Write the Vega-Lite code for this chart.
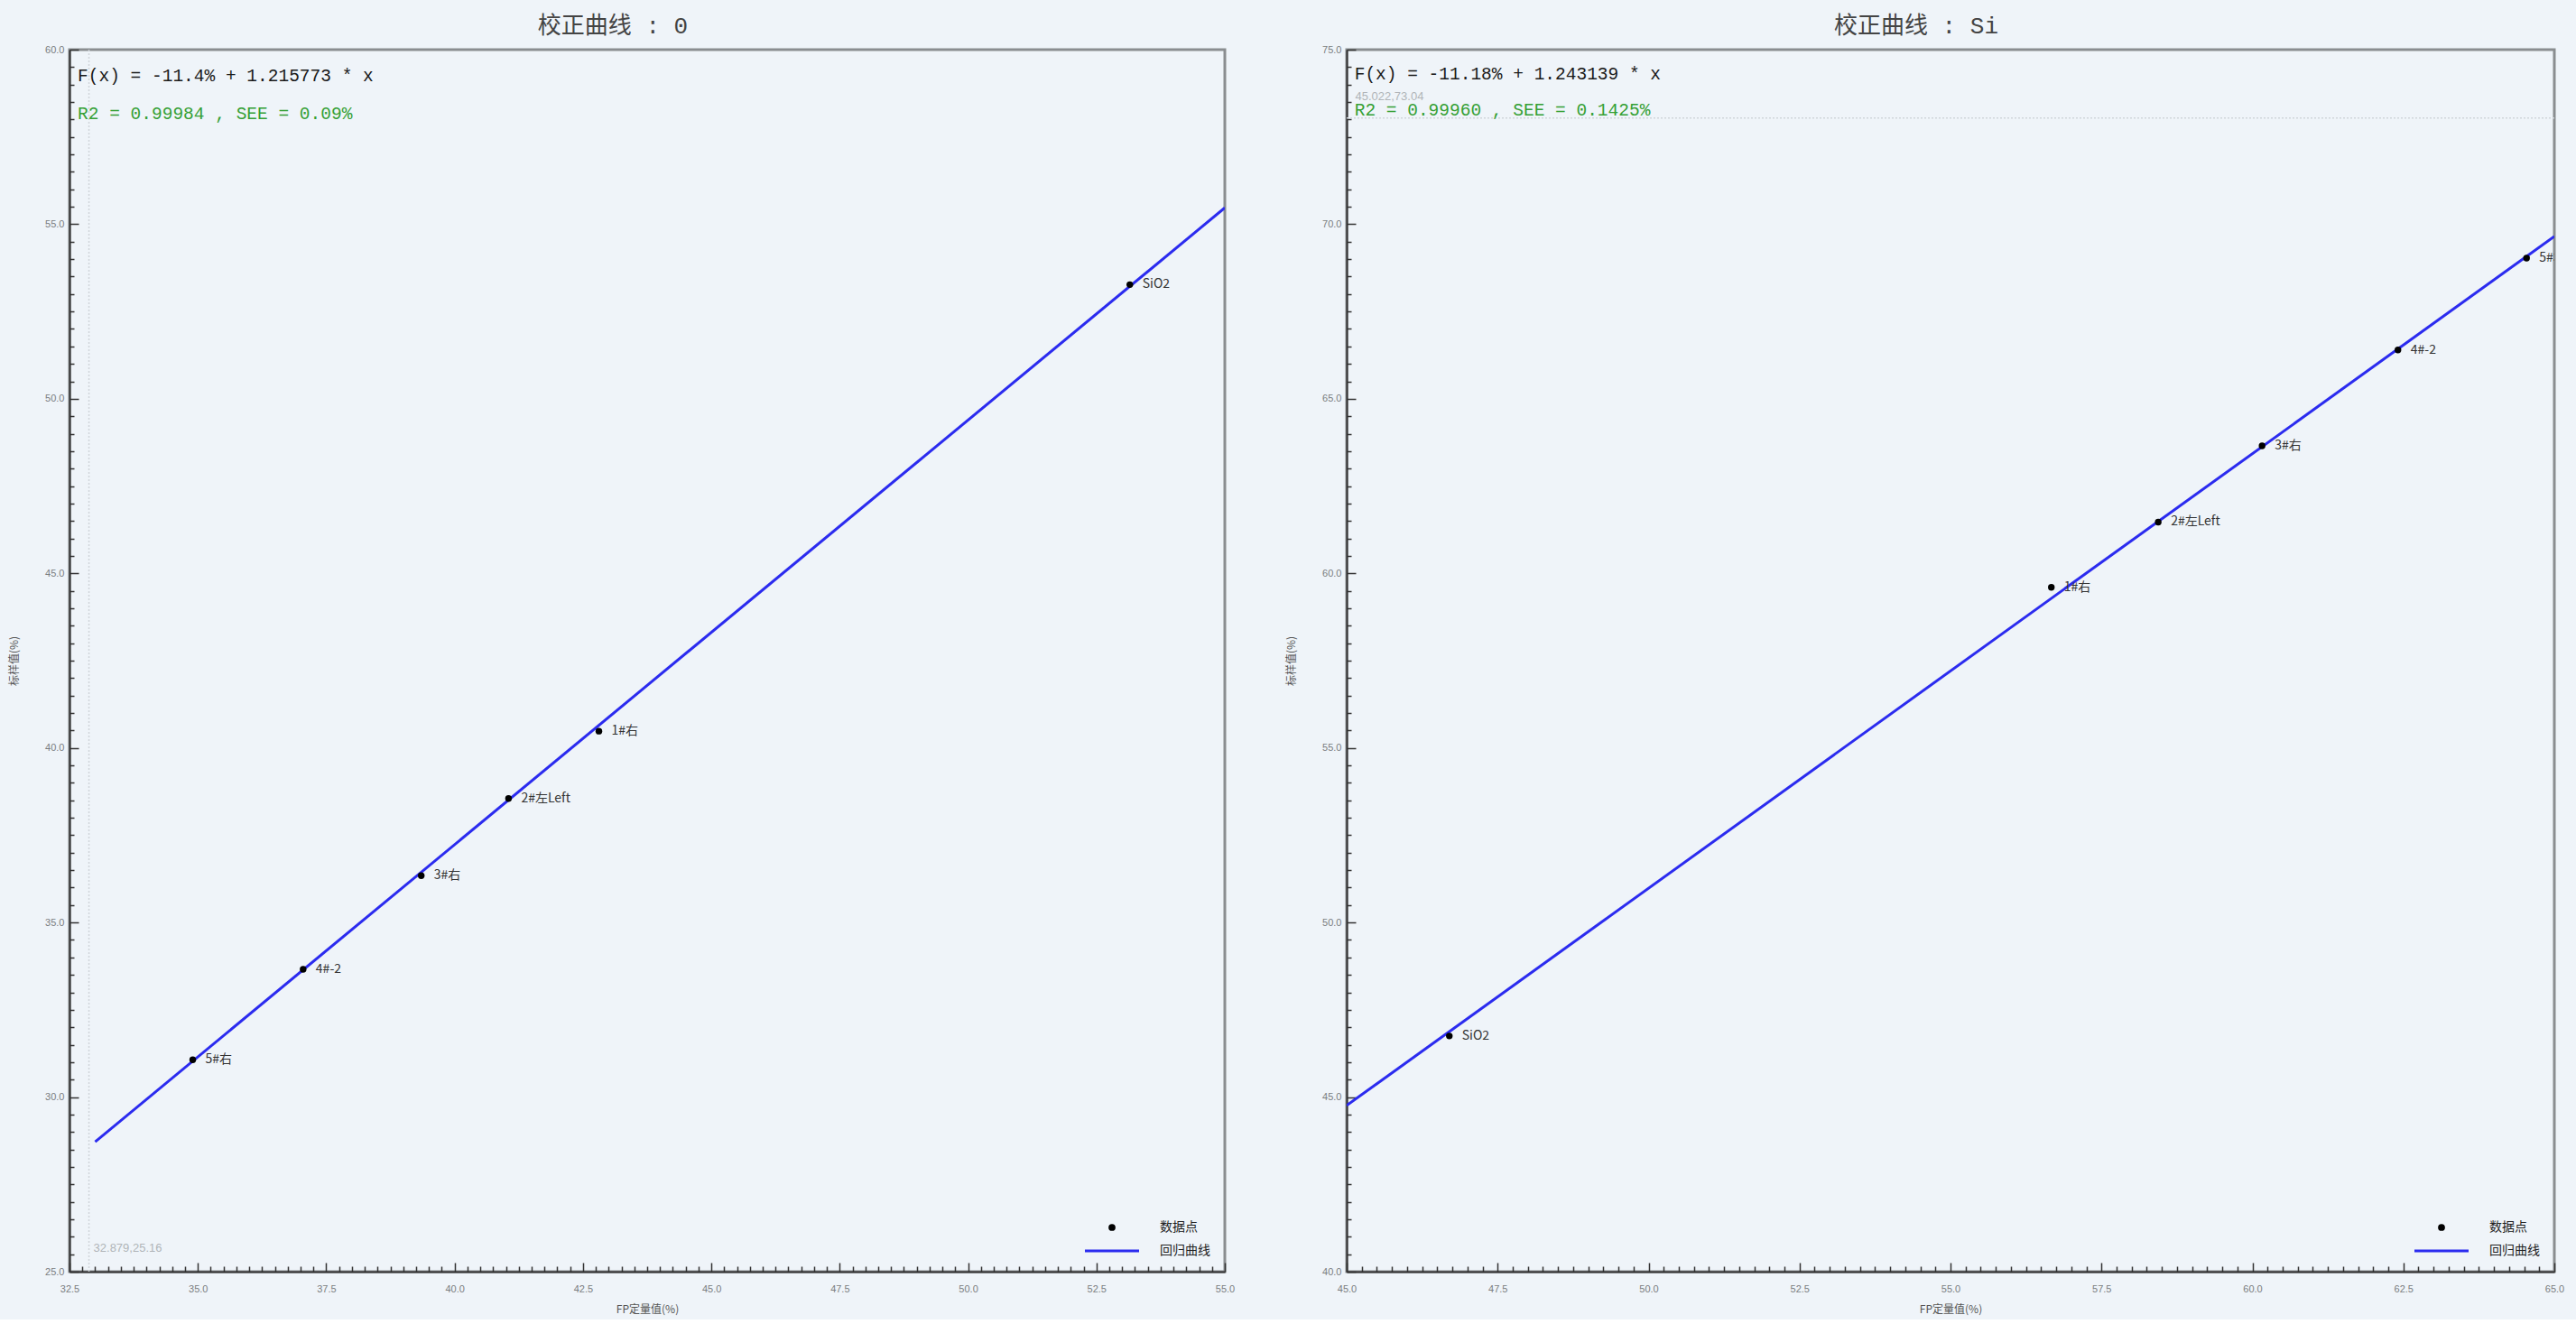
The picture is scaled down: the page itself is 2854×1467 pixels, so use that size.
{
  "$schema": "https://vega.github.io/schema/vega-lite/v6.json",
  "background": "#eff4f9",
  "padding": {"top": 14, "left": 8, "right": 18, "bottom": 4},
  "spacing": 53,
  "datasets": {
    "pts0": [
      {"name": "5#右", "fp": 34.9, "std": 31.07},
      {"name": "4#-2", "fp": 37.05, "std": 33.66},
      {"name": "3#右", "fp": 39.35, "std": 36.34},
      {"name": "2#左Left", "fp": 41.05, "std": 38.55},
      {"name": "1#右", "fp": 42.81, "std": 40.48},
      {"name": "SiO2", "fp": 53.15, "std": 53.27}
    ],
    "line0": [
      {"fp": 33.0, "std": 28.72},
      {"fp": 55.0, "std": 55.47}
    ],
    "pts1": [
      {"name": "SiO2", "fp": 46.7, "std": 46.75},
      {"name": "1#右", "fp": 56.67, "std": 59.6},
      {"name": "2#左Left", "fp": 58.44, "std": 61.47},
      {"name": "3#右", "fp": 60.16, "std": 63.65},
      {"name": "4#-2", "fp": 62.41, "std": 66.4},
      {"name": "5#右", "fp": 64.54, "std": 69.03}
    ],
    "line1": [
      {"fp": 45.0, "std": 44.76},
      {"fp": 65.0, "std": 69.65}
    ],
    "cursor0": [{"fp": 32.879, "std": 25.16, "label": "32.879,25.16"}],
    "cursor1": [{"fp": 45.022, "std": 73.04, "label": "45.022,73.04"}],
    "eq0": [{"label": "F(x) = -11.4% + 1.215773 * x"}],
    "r0": [{"label": "R2 = 0.99984 , SEE = 0.09%"}],
    "eq1": [{"label": "F(x) = -11.18% + 1.243139 * x"}],
    "r1": [{"label": "R2 = 0.99960 , SEE = 0.1425%"}]
  },
  "hconcat": [
    {
      "width": 1280,
      "height": 1354,
      "title": {"text": "校正曲线 : 0", "dx": -38},
      "layer": [
        {
          "data": {"name": "line0"},
          "mark": {"type": "line", "strokeWidth": 3, "clip": true},
          "encoding": {
            "x": {
              "field": "fp", "type": "quantitative",
              "scale": {"domain": [32.5, 55], "nice": false, "zero": false},
              "axis": {
                "title": "FP定量值(%)",
                "labelOverlap": false,
                "tickCount": 200,
                "values": [32.5,32.75,33,33.25,33.5,33.75,34,34.25,34.5,34.75,35,35.25,35.5,35.75,36,36.25,36.5,36.75,37,37.25,37.5,37.75,38,38.25,38.5,38.75,39,39.25,39.5,39.75,40,40.25,40.5,40.75,41,41.25,41.5,41.75,42,42.25,42.5,42.75,43,43.25,43.5,43.75,44,44.25,44.5,44.75,45,45.25,45.5,45.75,46,46.25,46.5,46.75,47,47.25,47.5,47.75,48,48.25,48.5,48.75,49,49.25,49.5,49.75,50,50.25,50.5,50.75,51,51.25,51.5,51.75,52,52.25,52.5,52.75,53,53.25,53.5,53.75,54,54.25,54.5,54.75,55],
                "labelExpr": "abs(datum.value/2.5 - round(datum.value/2.5)) < 0.001 ? format(datum.value, '.1f') : ''",
                "tickSize": {"condition": {"test": "abs(datum.value/2.5 - round(datum.value/2.5)) < 0.001", "value": -10}, "value": -6}
              }
            },
            "y": {
              "field": "std", "type": "quantitative",
              "scale": {"domain": [25, 60], "nice": false, "zero": false},
              "axis": {
                "title": "标样值(%)",
                "labelOverlap": false,
                "tickCount": 70,
                "labelExpr": "abs(datum.value/5 - round(datum.value/5)) < 0.001 ? format(datum.value, '.1f') : ''",
                "tickSize": {"condition": {"test": "abs(datum.value/5 - round(datum.value/5)) < 0.001", "value": -10}, "value": -5}
              }
            },
            "color": {"datum": "回归曲线", "scale": {"domain": ["数据点", "回归曲线"], "range": ["#000000", "#2b2bef"]},
              "legend": {"encode": {"symbols": {"update": {
                "shape": {"signal": "datum.value === '数据点' ? 'circle' : 'stroke'"},
                "size": {"signal": "datum.value === '数据点' ? 60 : 3600"},
                "fill": {"signal": "datum.value === '数据点' ? '#000000' : 'transparent'"},
                "stroke": {"signal": "datum.value === '数据点' ? '#000000' : '#2b2bef'"},
                "strokeWidth": {"signal": "datum.value === '数据点' ? 0 : 3"}
              }}}}}
          }
        },
        {
          "data": {"name": "cursor0"},
          "mark": {"type": "rule", "color": "#d0d5da", "strokeDash": [2, 2], "strokeWidth": 1.5},
          "encoding": {"x": {"field": "fp", "type": "quantitative"}}
        },
        {
          "data": {"name": "pts0"},
          "mark": {"type": "point", "filled": true, "size": 55, "opacity": 1},
          "encoding": {
            "x": {"field": "fp", "type": "quantitative"},
            "y": {"field": "std", "type": "quantitative"},
            "color": {"datum": "数据点", "scale": {"domain": ["数据点", "回归曲线"], "range": ["#000000", "#2b2bef"]}}
          }
        },
        {
          "data": {"name": "pts0"},
          "mark": {"type": "text", "align": "left", "baseline": "middle", "dx": 14, "fontSize": 14, "font": "Noto Sans CJK SC", "color": "#333333", "clip": true},
          "encoding": {
            "x": {"field": "fp", "type": "quantitative"},
            "y": {"field": "std", "type": "quantitative"},
            "text": {"field": "name"}
          }
        },
        {
          "data": {"name": "eq0"},
          "mark": {"type": "text", "align": "left", "baseline": "middle", "font": "Liberation Mono", "fontSize": 19.5, "color": "#1a1a1a"},
          "encoding": {"x": {"datum": 32.66, "type": "quantitative"}, "y": {"datum": 59.25, "type": "quantitative"}, "text": {"field": "label"}}
        },
        {
          "data": {"name": "r0"},
          "mark": {"type": "text", "align": "left", "baseline": "middle", "font": "Liberation Mono", "fontSize": 19.5, "color": "#35a035"},
          "encoding": {"x": {"datum": 32.66, "type": "quantitative"}, "y": {"datum": 58.17, "type": "quantitative"}, "text": {"field": "label"}}
        },
        {
          "data": {"name": "cursor0"},
          "mark": {"type": "text", "align": "left", "baseline": "middle", "dx": 5, "dy": -20, "font": "Liberation Sans", "fontSize": 13, "color": "#b0b4b8"},
          "encoding": {
            "x": {"field": "fp", "type": "quantitative"},
            "y": {"field": "std", "type": "quantitative"},
            "text": {"field": "label"}
          }
        }
      ]
    },
    {
      "width": 1338,
      "height": 1354,
      "title": {"text": "校正曲线 : Si", "dx": -38},
      "layer": [
        {
          "data": {"name": "line1"},
          "mark": {"type": "line", "strokeWidth": 3, "clip": true},
          "encoding": {
            "x": {
              "field": "fp", "type": "quantitative",
              "scale": {"domain": [45, 65], "nice": false, "zero": false},
              "axis": {
                "title": "FP定量值(%)",
                "labelOverlap": false,
                "tickCount": 200,
                "values": [45,45.25,45.5,45.75,46,46.25,46.5,46.75,47,47.25,47.5,47.75,48,48.25,48.5,48.75,49,49.25,49.5,49.75,50,50.25,50.5,50.75,51,51.25,51.5,51.75,52,52.25,52.5,52.75,53,53.25,53.5,53.75,54,54.25,54.5,54.75,55,55.25,55.5,55.75,56,56.25,56.5,56.75,57,57.25,57.5,57.75,58,58.25,58.5,58.75,59,59.25,59.5,59.75,60,60.25,60.5,60.75,61,61.25,61.5,61.75,62,62.25,62.5,62.75,63,63.25,63.5,63.75,64,64.25,64.5,64.75,65],
                "labelExpr": "abs(datum.value/2.5 - round(datum.value/2.5)) < 0.001 ? format(datum.value, '.1f') : ''",
                "tickSize": {"condition": {"test": "abs(datum.value/2.5 - round(datum.value/2.5)) < 0.001", "value": -10}, "value": -6}
              }
            },
            "y": {
              "field": "std", "type": "quantitative",
              "scale": {"domain": [40, 75], "nice": false, "zero": false},
              "axis": {
                "title": "标样值(%)",
                "labelOverlap": false,
                "tickCount": 70,
                "labelExpr": "abs(datum.value/5 - round(datum.value/5)) < 0.001 ? format(datum.value, '.1f') : ''",
                "tickSize": {"condition": {"test": "abs(datum.value/5 - round(datum.value/5)) < 0.001", "value": -10}, "value": -5}
              }
            },
            "color": {"datum": "回归曲线", "scale": {"domain": ["数据点", "回归曲线"], "range": ["#000000", "#2b2bef"]},
              "legend": {"encode": {"symbols": {"update": {
                "shape": {"signal": "datum.value === '数据点' ? 'circle' : 'stroke'"},
                "size": {"signal": "datum.value === '数据点' ? 60 : 3600"},
                "fill": {"signal": "datum.value === '数据点' ? '#000000' : 'transparent'"},
                "stroke": {"signal": "datum.value === '数据点' ? '#000000' : '#2b2bef'"},
                "strokeWidth": {"signal": "datum.value === '数据点' ? 0 : 3"}
              }}}}}
          }
        },
        {
          "data": {"name": "cursor1"},
          "mark": {"type": "rule", "color": "#d0d5da", "strokeDash": [2, 2], "strokeWidth": 1.5},
          "encoding": {"y": {"field": "std", "type": "quantitative"}}
        },
        {
          "data": {"name": "pts1"},
          "mark": {"type": "point", "filled": true, "size": 55, "opacity": 1},
          "encoding": {
            "x": {"field": "fp", "type": "quantitative"},
            "y": {"field": "std", "type": "quantitative"},
            "color": {"datum": "数据点", "scale": {"domain": ["数据点", "回归曲线"], "range": ["#000000", "#2b2bef"]}}
          }
        },
        {
          "data": {"name": "pts1"},
          "mark": {"type": "text", "align": "left", "baseline": "middle", "dx": 14, "fontSize": 14, "font": "Noto Sans CJK SC", "color": "#333333", "clip": true},
          "encoding": {
            "x": {"field": "fp", "type": "quantitative"},
            "y": {"field": "std", "type": "quantitative"},
            "text": {"field": "name"}
          }
        },
        {
          "data": {"name": "eq1"},
          "mark": {"type": "text", "align": "left", "baseline": "middle", "font": "Liberation Mono", "fontSize": 19.5, "color": "#1a1a1a"},
          "encoding": {"x": {"datum": 45.13, "type": "quantitative"}, "y": {"datum": 74.3, "type": "quantitative"}, "text": {"field": "label"}}
        },
        {
          "data": {"name": "r1"},
          "mark": {"type": "text", "align": "left", "baseline": "middle", "font": "Liberation Mono", "fontSize": 19.5, "color": "#35a035"},
          "encoding": {"x": {"datum": 45.13, "type": "quantitative"}, "y": {"datum": 73.27, "type": "quantitative"}, "text": {"field": "label"}}
        },
        {
          "data": {"name": "cursor1"},
          "mark": {"type": "text", "align": "left", "baseline": "middle", "dx": 8, "dy": -24, "font": "Liberation Sans", "fontSize": 13, "color": "#b0b4b8"},
          "encoding": {
            "x": {"field": "fp", "type": "quantitative"},
            "y": {"field": "std", "type": "quantitative"},
            "text": {"field": "label"}
          }
        }
      ]
    }
  ],
  "resolve": {
    "scale": {"color": "independent"},
    "legend": {"color": "independent"}
  },
  "config": {
    "view": {"stroke": "#8a8d90", "strokeWidth": 3, "fill": "#eff4f9"},
    "title": {"font": "Liberation Mono, Noto Sans CJK SC", "fontSize": 26, "fontWeight": "normal", "color": "#444444", "offset": 7, "frame": "group", "anchor": "middle"},
    "axis": {
      "grid": false,
      "labelFont": "Liberation Sans",
      "labelFontSize": 11,
      "labelColor": "#7a7d80",
      "labelOverlap": false,
      "labelFlush": false,
      "labelBound": false,
      "domainColor": "#333333",
      "domainWidth": 2,
      "tickColor": "#333333",
      "tickWidth": 1.5,
      "titleFont": "Noto Sans CJK SC",
      "titleFontSize": 12,
      "titleFontWeight": "normal",
      "titleColor": "#555555"
    },
    "axisY": {"titlePadding": 27, "labelPadding": 16},
    "axisX": {"titlePadding": 8, "labelPadding": 23},
    "legend": {
      "orient": "bottom-right",
      "title": null,
      "offset": 16,
      "labelFont": "Noto Sans CJK SC",
      "labelFontSize": 14,
      "labelColor": "#222222",
      "symbolSize": 3600,
      "rowPadding": 12,
      "symbolStrokeWidth": 3,
      "labelOffset": 46,
      "fillColor": null
    }
  }
}
